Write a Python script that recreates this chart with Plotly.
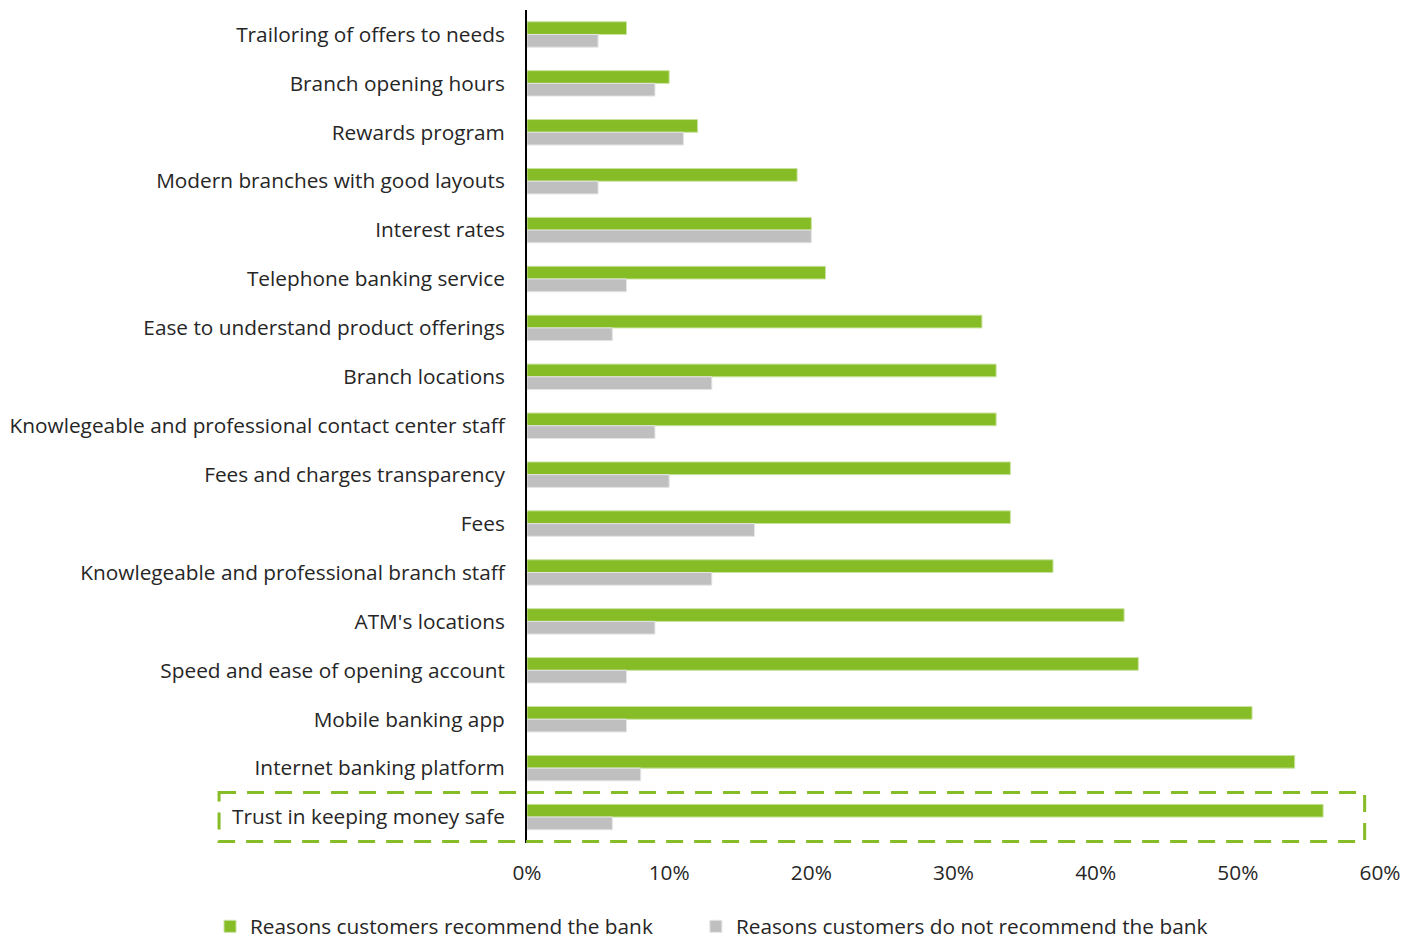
import plotly.graph_objects as go

# Reasons listed from top row to bottom row
reasons = [
    "Trailoring of offers to needs",
    "Branch opening hours",
    "Rewards program",
    "Modern branches with good layouts",
    "Interest rates",
    "Telephone banking service",
    "Ease to understand product offerings",
    "Branch locations",
    "Knowlegeable and professional contact center staff",
    "Fees and charges transparency",
    "Fees",
    "Knowlegeable and professional branch staff",
    "ATM's locations",
    "Speed and ease of opening account",
    "Mobile banking app",
    "Internet banking platform",
    "Trust in keeping money safe",
]
recommend = [7, 10, 12, 19, 20, 21, 32, 33, 33, 34, 34, 37, 42, 43, 51, 54, 56]
not_recommend = [5, 9, 11, 5, 20, 7, 6, 13, 9, 10, 16, 13, 9, 7, 7, 8, 6]

x_ticks = [0, 10, 20, 30, 40, 50, 60]
x_tick_text = ["0%", "10%", "20%", "30%", "40%", "50%", "60%"]

GREEN = "#86BC25"
GREY = "#BFBFBF"
TEXT = "#262626"
FONT = "Open Sans"
SIZE = 20.8

fig = go.Figure()
fig.add_trace(go.Bar(
    y=reasons, x=recommend, orientation="h",
    name="Reasons customers recommend the bank",
    marker=dict(color=GREEN, line=dict(color="#C9E3A0", width=1)),
    legend="legend",
))
fig.add_trace(go.Bar(
    y=reasons, x=not_recommend, orientation="h",
    name="Reasons customers do not recommend the bank",
    marker=dict(color=GREY, line=dict(color="#E4E4E4", width=1)),
    legend="legend2",
))

# Highlight box around the top reason
fig.add_shape(
    type="rect", xref="paper", yref="y",
    x0=-0.361, x1=0.982, y0=15.5, y1=16.5,
    line=dict(color=GREEN, width=3, dash="17px,11px"),
    fillcolor="rgba(0,0,0,0)", layer="above",
)

legend_style = dict(
    orientation="h", xanchor="left", y=-0.076, yanchor="top",
    font=dict(family=FONT, size=SIZE, color=TEXT),
    itemwidth=30, tracegroupgap=0, bgcolor="rgba(0,0,0,0)",
)

fig.update_layout(
    width=1416, height=939,
    margin=dict(l=527, r=36, t=10, b=96, autoexpand=False),
    paper_bgcolor="white", plot_bgcolor="white",
    barmode="group", bargap=0.48, bargroupgap=0,
    font=dict(family=FONT, size=SIZE, color=TEXT),
    showlegend=True,
    legend=dict(x=-0.3716, **legend_style),
    legend2=dict(x=0.198, **legend_style),
    xaxis=dict(
        range=[0, 60], tickvals=x_ticks, ticktext=x_tick_text,
        showgrid=False, zeroline=False, showline=False,
        ticks="", ticklabelstandoff=15,
        tickfont=dict(family=FONT, size=SIZE, color=TEXT),
    ),
    yaxis=dict(
        autorange="reversed", type="category",
        showgrid=False, zeroline=False,
        showline=True, linecolor="#000000", linewidth=2,
        ticks="", ticklabelstandoff=16,
        tickfont=dict(family=FONT, size=SIZE, color=TEXT),
    ),
)

fig.write_html("out.html")
